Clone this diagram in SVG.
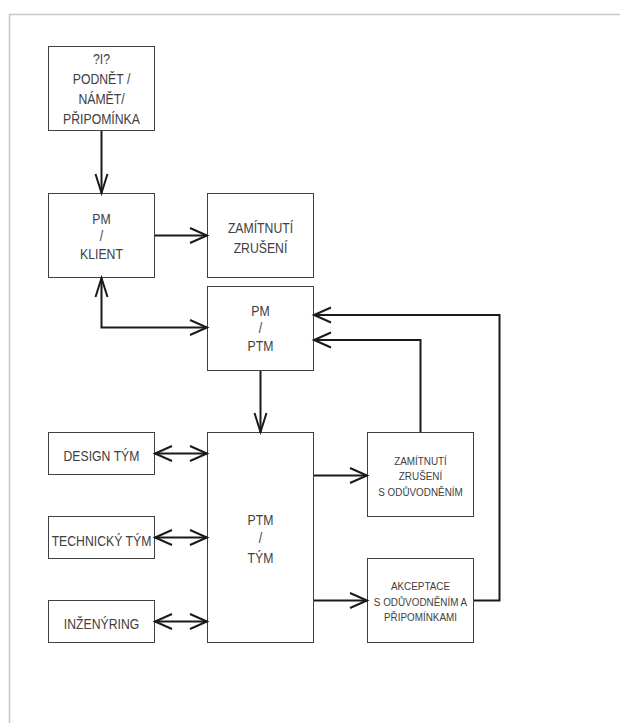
<svg xmlns="http://www.w3.org/2000/svg" width="620" height="725" viewBox="0 0 620 725">
<style>
.box{fill:#fff;stroke:#404040;stroke-width:1}
.t{font-family:"Liberation Sans",Arial,sans-serif;font-size:14px;fill:#404040;text-anchor:middle}
.s{font-family:"Liberation Sans",Arial,sans-serif;font-size:11.5px;fill:#404040;text-anchor:middle}
.c{fill:none;stroke:#1a1a1a;stroke-width:2}
</style>
<defs>
<marker id="ah" markerUnits="userSpaceOnUse" markerWidth="20" markerHeight="20" refX="0" refY="0" orient="auto-start-reverse" overflow="visible"><path d="M-17,-7.5 L0,0 L-17,7.5" fill="none" stroke="#1a1a1a" stroke-width="2"/></marker>
<marker id="av" markerUnits="userSpaceOnUse" markerWidth="20" markerHeight="20" refX="0" refY="0" orient="auto-start-reverse" overflow="visible"><path d="M-19,-6 L0,0 L-19,6" fill="none" stroke="#1a1a1a" stroke-width="2"/></marker>
</defs>
<rect width="620" height="725" fill="#fff"/>
<path d="M9.5,723 V14.5 H620" fill="none" stroke="#c8c8c8" stroke-width="1.5"/>

<g id="podnet">
<rect class="box" x="48.5" y="46.5" width="106" height="84"/>
<g transform="translate(101.5,0) scale(0.875,1)">
<text class="t" x="0" y="64">?I?</text>
<text class="t" x="0" y="84">PODNĚT /</text>
<text class="t" x="0" y="104">NÁMĚT/</text>
<text class="t" x="0" y="124">PŘIPOMÍNKA</text>
</g>
</g>

<g id="pm-klient">
<rect class="box" x="48.5" y="193.5" width="106" height="84"/>
<g transform="translate(101.5,0) scale(0.875,1)">
<text class="t" x="0" y="224">PM</text>
<text class="t" x="0" y="241.5">/</text>
<text class="t" x="0" y="259">KLIENT</text>
</g>
</g>

<g id="zamitnuti1">
<rect class="box" x="207.5" y="193.5" width="106" height="84"/>
<g transform="translate(260.5,0) scale(0.875,1)">
<text class="t" x="0" y="233">ZAMÍTNUTÍ</text>
<text class="t" x="0" y="253">ZRUŠENÍ</text>
</g>
</g>

<g id="pm-ptm">
<rect class="box" x="207.5" y="286.5" width="106" height="84"/>
<g transform="translate(260.5,0) scale(0.875,1)">
<text class="t" x="0" y="316.5">PM</text>
<text class="t" x="0" y="333.5">/</text>
<text class="t" x="0" y="351.5">PTM</text>
</g>
</g>

<g id="ptm-tym">
<rect class="box" x="207.5" y="432.5" width="106" height="210"/>
<g transform="translate(260.5,0) scale(0.875,1)">
<text class="t" x="0" y="525">PTM</text>
<text class="t" x="0" y="543">/</text>
<text class="t" x="0" y="563">TÝM</text>
</g>
</g>

<g id="design">
<rect class="box" x="48.5" y="432.5" width="106" height="42"/>
<g transform="translate(101.5,0) scale(0.875,1)">
<text class="t" x="0" y="461.5">DESIGN TÝM</text>
</g>
</g>

<g id="technicky">
<rect class="box" x="48.5" y="516.5" width="106" height="42"/>
<g transform="translate(101.5,0) scale(0.875,1)">
<text class="t" x="0" y="546">TECHNICKÝ TÝM</text>
</g>
</g>

<g id="inzenyring">
<rect class="box" x="48.5" y="600.5" width="106" height="42"/>
<g transform="translate(101.5,0) scale(0.875,1)">
<text class="t" x="0" y="629">INŽENÝRING</text>
</g>
</g>

<g id="zamitnuti2">
<rect class="box" x="367.5" y="432.5" width="106" height="84"/>
<g transform="translate(420.5,0) scale(0.86,1)">
<text class="s" x="0" y="465">ZAMÍTNUTÍ</text>
<text class="s" x="0" y="480.5">ZRUŠENÍ</text>
<text class="s" x="0" y="496">S ODŮVODNĚNÍM</text>
</g>
</g>

<g id="akceptace">
<rect class="box" x="367.5" y="558.5" width="106" height="84"/>
<g transform="translate(420.5,0) scale(0.86,1)">
<text class="s" x="0" y="590">AKCEPTACE</text>
<text class="s" x="0" y="606">S ODŮVODNĚNÍM A</text>
<text class="s" x="0" y="621.5">PŘIPOMÍNKAMI</text>
</g>
</g>

<g id="connectors">
<path class="c" d="M101.5,131 V193" marker-end="url(#av)"/>
<path class="c" d="M155,235.5 H207" marker-end="url(#ah)"/>
<path class="c" d="M101.5,278 V327.5 H207" marker-start="url(#av)" marker-end="url(#ah)"/>
<path class="c" d="M260.5,371 V432" marker-end="url(#av)"/>
<path class="c" d="M314,475.5 H367" marker-end="url(#ah)"/>
<path class="c" d="M314,600.5 H367" marker-end="url(#ah)"/>
<path class="c" d="M420.5,432 V340 H314" marker-end="url(#ah)"/>
<path class="c" d="M474,600.5 H499.5 V315 H314" marker-end="url(#ah)"/>
<path class="c" d="M155,453.5 H207" marker-start="url(#ah)" marker-end="url(#ah)"/>
<path class="c" d="M155,537.5 H207" marker-start="url(#ah)" marker-end="url(#ah)"/>
<path class="c" d="M155,621.5 H207" marker-start="url(#ah)" marker-end="url(#ah)"/>
</g>
</svg>
